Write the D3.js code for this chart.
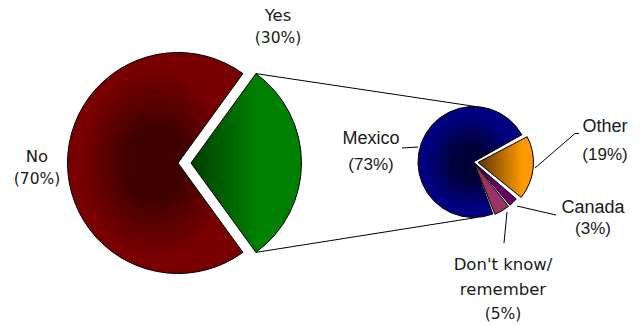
<!DOCTYPE html>
<html>
<head>
<meta charset="utf-8">
<script src="https://cdn.jsdelivr.net/npm/d3@7"></script>
<style>
  html, body { margin: 0; padding: 0; background: #fff; }
  svg { display: block; }
</style>
</head>
<body>
<svg id="chart" width="642" height="325"></svg>
<script>
// Main question: share of respondents
const mainCategories = ["Yes", "No"];
const mainValues = [30, 70];
const mainLabels = ["(30%)", "(70%)"];

// Breakdown of the "Yes" answers
const subCategories = ["Other", "Canada", "Don't know/remember", "Mexico"];
const subValues = [19, 3, 5, 73];
const subLabels = ["(19%)", "(3%)", "(5%)", "(73%)"];

const svg = d3.select("#chart");
const defs = svg.append("defs");
const rad = Math.PI / 180;

// ---------- gradients ----------
function radial(id, inner, outer) {
  const g = defs.append("radialGradient").attr("id", id)
    .attr("cx", "50%").attr("cy", "50%").attr("r", "50%");
  g.append("stop").attr("offset", "0%").attr("stop-color", inner);
  g.append("stop").attr("offset", "30%").attr("stop-color", inner);
  g.append("stop").attr("offset", "85%").attr("stop-color", outer);
  g.append("stop").attr("offset", "100%").attr("stop-color", outer);
}
function linear(id, from, to, stopAt) {
  const g = defs.append("linearGradient").attr("id", id)
    .attr("x1", "0%").attr("x2", "100%").attr("y1", "0%").attr("y2", "0%");
  g.append("stop").attr("offset", "0%").attr("stop-color", from);
  g.append("stop").attr("offset", stopAt).attr("stop-color", to);
  g.append("stop").attr("offset", "100%").attr("stop-color", to);
}
radial("gNo", "#3e0000", "#780000");
linear("gYes", "#003f00", "#008000", "60%");
radial("gMexico", "#000038", "#000080");
linear("gOther", "#5a3500", "#ff9900", "80%");

const mainFill = { "Yes": "url(#gYes)", "No": "url(#gNo)" };
const subFill = {
  "Other": "url(#gOther)", "Canada": "#660066",
  "Don't know/remember": "#993366", "Mexico": "url(#gMexico)"
};

// ---------- main pie ----------
const main = { cx: 178, cy: 163, r: 110.5, explode: 13 };
const mainPie = d3.pie().sort(null)
  .startAngle(90 * rad - (mainValues[0] / 100) * Math.PI)
  .endAngle(90 * rad - (mainValues[0] / 100) * Math.PI + 2 * Math.PI);
const mainArcs = mainPie(mainValues.map((v, i) => ({ name: mainCategories[i], value: v })).map(d => d.value))
  .map((a, i) => Object.assign(a, { name: mainCategories[i] }));
const mainArc = d3.arc().innerRadius(0).outerRadius(main.r);

const gMain = svg.append("g").attr("transform", `translate(${main.cx},${main.cy})`);
gMain.selectAll("path").data(mainArcs).join("path")
  .attr("d", mainArc)
  .attr("transform", d => {
    if (d.name !== "Yes") return null;
    const m = (d.startAngle + d.endAngle) / 2;
    return `translate(${main.explode * Math.sin(m)},${-main.explode * Math.cos(m)})`;
  })
  .attr("fill", d => mainFill[d.name])
  .attr("stroke", "#000").attr("stroke-width", 1);

// ---------- secondary pie ----------
const sub = { cx: 473.5, cy: 162, r: 55.5 };
const subPie = d3.pie().sort(null)
  .startAngle(61.5 * rad).endAngle(61.5 * rad + 2 * Math.PI);
const subArcs = subPie(subValues).map((a, i) => Object.assign(a, { name: subCategories[i] }));
const subArc = d3.arc().innerRadius(0).outerRadius(sub.r)
  .padAngle(0.03).padRadius(sub.r);
const subExplode = { "Other": 4.5, "Canada": 1, "Don't know/remember": 1, "Mexico": 0 };

const gSub = svg.append("g").attr("transform", `translate(${sub.cx},${sub.cy})`);
gSub.selectAll("path").data(subArcs).join("path")
  .attr("d", subArc)
  .attr("transform", d => {
    const e = subExplode[d.name], m = (d.startAngle + d.endAngle) / 2;
    return `translate(${e * Math.sin(m)},${-e * Math.cos(m)})`;
  })
  .attr("fill", d => subFill[d.name])
  .attr("stroke", "#000").attr("stroke-width", 1);

// ---------- connector lines from the exploded slice to the breakdown pie ----------
const yesArc = mainArcs[0];
const yesOx = main.cx + main.explode * Math.sin((yesArc.startAngle + yesArc.endAngle) / 2);
const yesOy = main.cy - main.explode * Math.cos((yesArc.startAngle + yesArc.endAngle) / 2);
const connectors = [
  [[yesOx + main.r * Math.sin(yesArc.startAngle), yesOy - main.r * Math.cos(yesArc.startAngle)],
   [sub.cx + 2, sub.cy - sub.r]],
  [[yesOx + main.r * Math.sin(yesArc.endAngle), yesOy - main.r * Math.cos(yesArc.endAngle)],
   [sub.cx + 3, sub.cy + sub.r]]
];
svg.append("g").selectAll("line").data(connectors).join("line")
  .attr("x1", d => d[0][0]).attr("y1", d => d[0][1])
  .attr("x2", d => d[1][0]).attr("y2", d => d[1][1])
  .attr("stroke", "#000").attr("stroke-width", 1);

// ---------- leader lines ----------
const leaders = [
  [[402, 148], [418, 147]],
  [[535, 168], [575, 133.5], [579, 133.5]],
  [[517, 206], [556, 215]],
  [[507, 212], [504, 243]]
];
svg.append("g").selectAll("path").data(leaders).join("path")
  .attr("d", d => d3.line()(d))
  .attr("fill", "none").attr("stroke", "#000").attr("stroke-width", 1);

// ---------- labels ----------
const tahomaLike = "Tahoma, 'DejaVu Sans', Verdana, sans-serif";
const arialLike = "Arial, 'Liberation Sans', sans-serif";
const labelLayout = {
  "Yes":                 { x: 278, y: [21, 43], font: tahomaLike, size: 16.5, lines: ["Yes"] },
  "No":                  { x: 37,  y: [162, 184], font: tahomaLike, size: 16.5, lines: ["No"] },
  "Mexico":              { x: 371, y: [144, 169.5], font: arialLike, size: 18, lines: ["Mexico"] },
  "Other":               { x: 605, y: [131.5, 159.5], font: arialLike, size: 18, lines: ["Other"] },
  "Canada":              { x: 593, y: [213, 234], font: arialLike, size: 18, lines: ["Canada"] },
  "Don't know/remember": { x: 503, y: [269.5, 295, 318.5], font: tahomaLike, size: 16.5, lines: ["Don't know/", "remember"] }
};
const allNames = mainCategories.concat(subCategories);
const allPct = mainLabels.concat(subLabels);
const gLab = svg.append("g").attr("fill", "#1a1a1a");
allNames.forEach((name, i) => {
  const L = labelLayout[name];
  const rows = L.lines.concat([allPct[i]]);
  const t = gLab.append("text")
    .attr("text-anchor", "middle")
    .attr("font-family", L.font)
    .attr("font-size", L.size);
  rows.forEach((row, j) => {
    t.append("tspan").attr("x", L.x).attr("y", L.y[j])
      .attr("font-size", j === rows.length - 1 ? L.size - 1 : L.size)
      .text(row);
  });
});
</script>
</body>
</html>
